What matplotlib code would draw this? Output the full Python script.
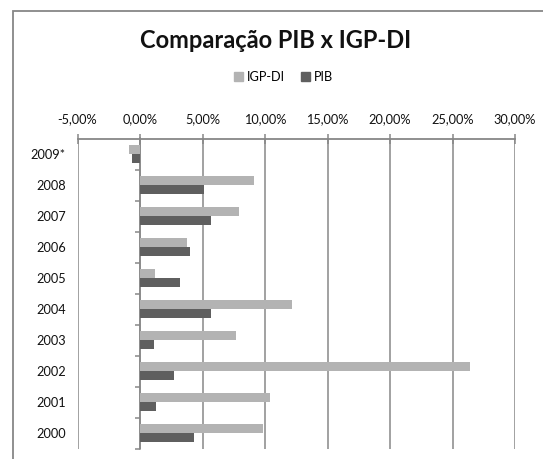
import matplotlib
matplotlib.use("Agg")
import matplotlib.pyplot as plt
from matplotlib.patches import Rectangle, Patch
from matplotlib.ticker import FuncFormatter, MultipleLocator

# =========================================================
# DATA
# =========================================================

anos = ["2009*", "2008", "2007", "2006", "2005",
        "2004", "2003", "2002", "2001", "2000"]

igp_di = [-0.87, 9.10, 7.89, 3.79, 1.22, 12.14, 7.67, 26.41, 10.40, 9.81]
pib = [-0.66, 5.10, 5.70, 4.00, 3.20, 5.70, 1.10, 2.70, 1.30, 4.30]

x_min, x_max = -5, 30

# =========================================================
# STYLE
# =========================================================

plt.rcParams["font.family"] = ["Lato", "DejaVu Sans"]

W, H = 543, 459
grid_col = "#878787"
col_igp = "#b3b3b3"
col_pib = "#5f5f5f"
txt_col = "#111111"
lbl_size = 9.2

fig = plt.figure(figsize=(W / 100, H / 100), dpi=100)

# outer chart frame (cut off at right and bottom)
fig.patches.append(Rectangle(
    (12.5 / W, -0.1), 1.2, 1 - 10.5 / H + 0.1,
    transform=fig.transFigure, fill=False,
    edgecolor=grid_col, linewidth=1.3
))

left, right = 77.5, 515
top, bottom = 138.5, 449
ax = fig.add_axes([left / W, 1 - bottom / H, (right - left) / W, (bottom - top) / H])

# =========================================================
# BARS
# =========================================================

pos = list(range(len(anos)))
h = 0.29

ax.barh([p - h / 2 for p in pos], igp_di, height=h, color=col_igp, label="IGP-DI")
ax.barh([p + h / 2 for p in pos], pib, height=h, color=col_pib, label="PIB")

ax.set_xlim(x_min, x_max)
ax.set_ylim(len(anos) - 0.5, -0.5)

# =========================================================
# AXES
# =========================================================

ax.xaxis.set_major_locator(MultipleLocator(5))
ax.xaxis.set_major_formatter(
    FuncFormatter(lambda v, _: f"{v:.2f}%".replace(".", ","))
)
ax.xaxis.tick_top()
ax.tick_params(axis="x", direction="inout", length=7.5, width=1.1,
               color=grid_col, labelsize=lbl_size, pad=5.5, labelcolor=txt_col)
ax.grid(axis="x", color=grid_col, linewidth=1.1)
ax.set_axisbelow(True)

ax.set_yticks(pos)
ax.set_yticklabels(anos)
ax.tick_params(axis="y", length=0, pad=8.5, labelsize=lbl_size, labelcolor=txt_col)

for s in ["left", "right", "bottom"]:
    ax.spines[s].set_visible(False)
ax.spines["top"].set_color(grid_col)
ax.spines["top"].set_linewidth(1.3)

# category axis crossing at 0 with ticks between categories
cat_ax = ax.secondary_yaxis((0 - x_min) / (x_max - x_min))
cat_ax.set_yticks([p + 0.5 for p in pos])
cat_ax.set_yticklabels([])
cat_ax.tick_params(direction="out", length=3.6, width=1.1, color=grid_col)
cat_ax.spines["left"].set_color(grid_col)
cat_ax.spines["left"].set_linewidth(1.1)

# =========================================================
# TITLE + LEGEND
# =========================================================

fig.text(275.5 / W, 1 - 40 / H, "Comparação PIB x IGP-DI",
         ha="center", va="center", fontsize=17, fontweight="bold",
         color=txt_col)

handles = [Patch(color=col_igp, label="IGP-DI"), Patch(color=col_pib, label="PIB")]
fig.legend(handles=handles, loc="center", bbox_to_anchor=(283.5 / W, 1 - 77 / H),
           ncol=2, frameon=False, fontsize=lbl_size, handlelength=0.7,
           handleheight=0.7, handletextpad=0.35, columnspacing=1.2)

plt.savefig("out.png", dpi=100)
